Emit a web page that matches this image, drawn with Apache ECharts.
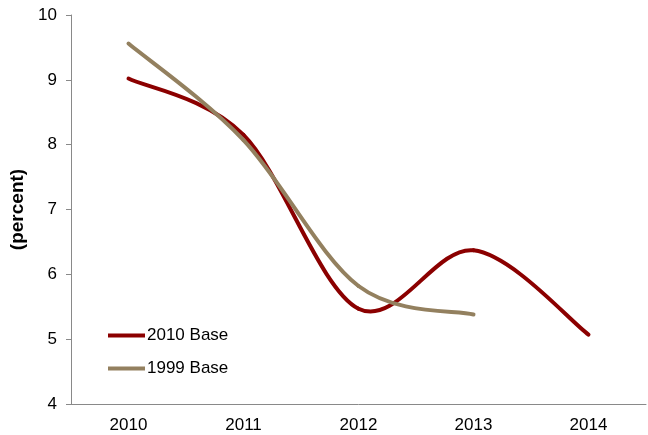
<!DOCTYPE html>
<html><head><meta charset="utf-8">
<script src="https://cdn.jsdelivr.net/npm/echarts@6/dist/echarts.min.js"></script>
<style>html,body{margin:0;padding:0;background:#fff}#c{width:648px;height:435px}</style>
</head><body><div id="c"></div>
<script>
const categories = ['2010','2011','2012','2013','2014'];
const base2010 = [9.02, 8.15, 5.47, 6.37, 5.07];
const base1999 = [9.56, 8.07, 5.82, 5.38];
const yTicks = {min: 4, max: 10, interval: 1};

const chart = echarts.init(document.getElementById('c'));
const axisCol = '#898989';
const font = 'Liberation Sans, Arial, sans-serif';

// Excel-style smoothed line: cubic Bezier per segment through the data points
function smoothSeries(name, values, color) {
  const n = values.length;
  return {
    name: name, type: 'custom', coordinateSystem: 'cartesian2d',
    itemStyle: {color: color},
    encode: {x: 0, y: 1},
    data: values.map((v, i) => [i, v]),
    renderItem: function (params, api) {
      const i = params.dataIndex;
      if (i >= n - 1) return null;
      const c = k => { k = Math.max(0, Math.min(n - 1, k)); return api.coord([k, values[k]]); };
      const P0 = c(i - 1), P1 = c(i), P2 = c(i + 1), P3 = c(i + 2);
      return {
        type: 'bezierCurve',
        shape: {
          x1: P1[0], y1: P1[1], x2: P2[0], y2: P2[1],
          cpx1: P1[0] + (P2[0] - P0[0]) / 6, cpy1: P1[1] + (P2[1] - P0[1]) / 6,
          cpx2: P2[0] - (P3[0] - P1[0]) / 6, cpy2: P2[1] - (P3[1] - P1[1]) / 6
        },
        style: {stroke: color, lineWidth: 4, fill: null, lineCap: 'round'}
      };
    }
  };
}

chart.setOption({
  animation: false,
  grid: {left: 70, right: 2, top: 15, bottom: 31},
  legend: {
    orient: 'vertical', left: 103, top: 322, itemGap: 16,
    icon: 'rect', itemWidth: 37, itemHeight: 4,
    textStyle: {fontSize: 17, color: '#000', fontFamily: font, padding: [0,0,0,-3]},
    data: [{name: '2010 Base', itemStyle: {color: '#8B0000'}}, {name: '1999 Base', itemStyle: {color: '#93805F'}}]
  },
  xAxis: {
    type: 'category', data: categories, boundaryGap: true,
    axisLine: {lineStyle: {color: axisCol}},
    axisTick: {length: 5, lineStyle: {color: axisCol}},
    axisLabel: {fontSize: 17, color: '#000', fontFamily: font, margin: 13}
  },
  yAxis: {
    type: 'value', min: yTicks.min, max: yTicks.max, interval: yTicks.interval,
    name: '(percent)', nameLocation: 'middle', nameGap: 44,
    nameTextStyle: {fontSize: 19, fontWeight: 'bold', color: '#000', fontFamily: font},
    axisLine: {show: true, lineStyle: {color: axisCol}},
    axisTick: {show: true, length: 5, lineStyle: {color: axisCol}},
    splitLine: {show: false},
    axisLabel: {fontSize: 17, color: '#000', fontFamily: font, margin: 14}
  },
  series: [
    smoothSeries('2010 Base', base2010, '#8B0000'),
    smoothSeries('1999 Base', base1999, '#93805F')
  ]
});
</script></body></html>
